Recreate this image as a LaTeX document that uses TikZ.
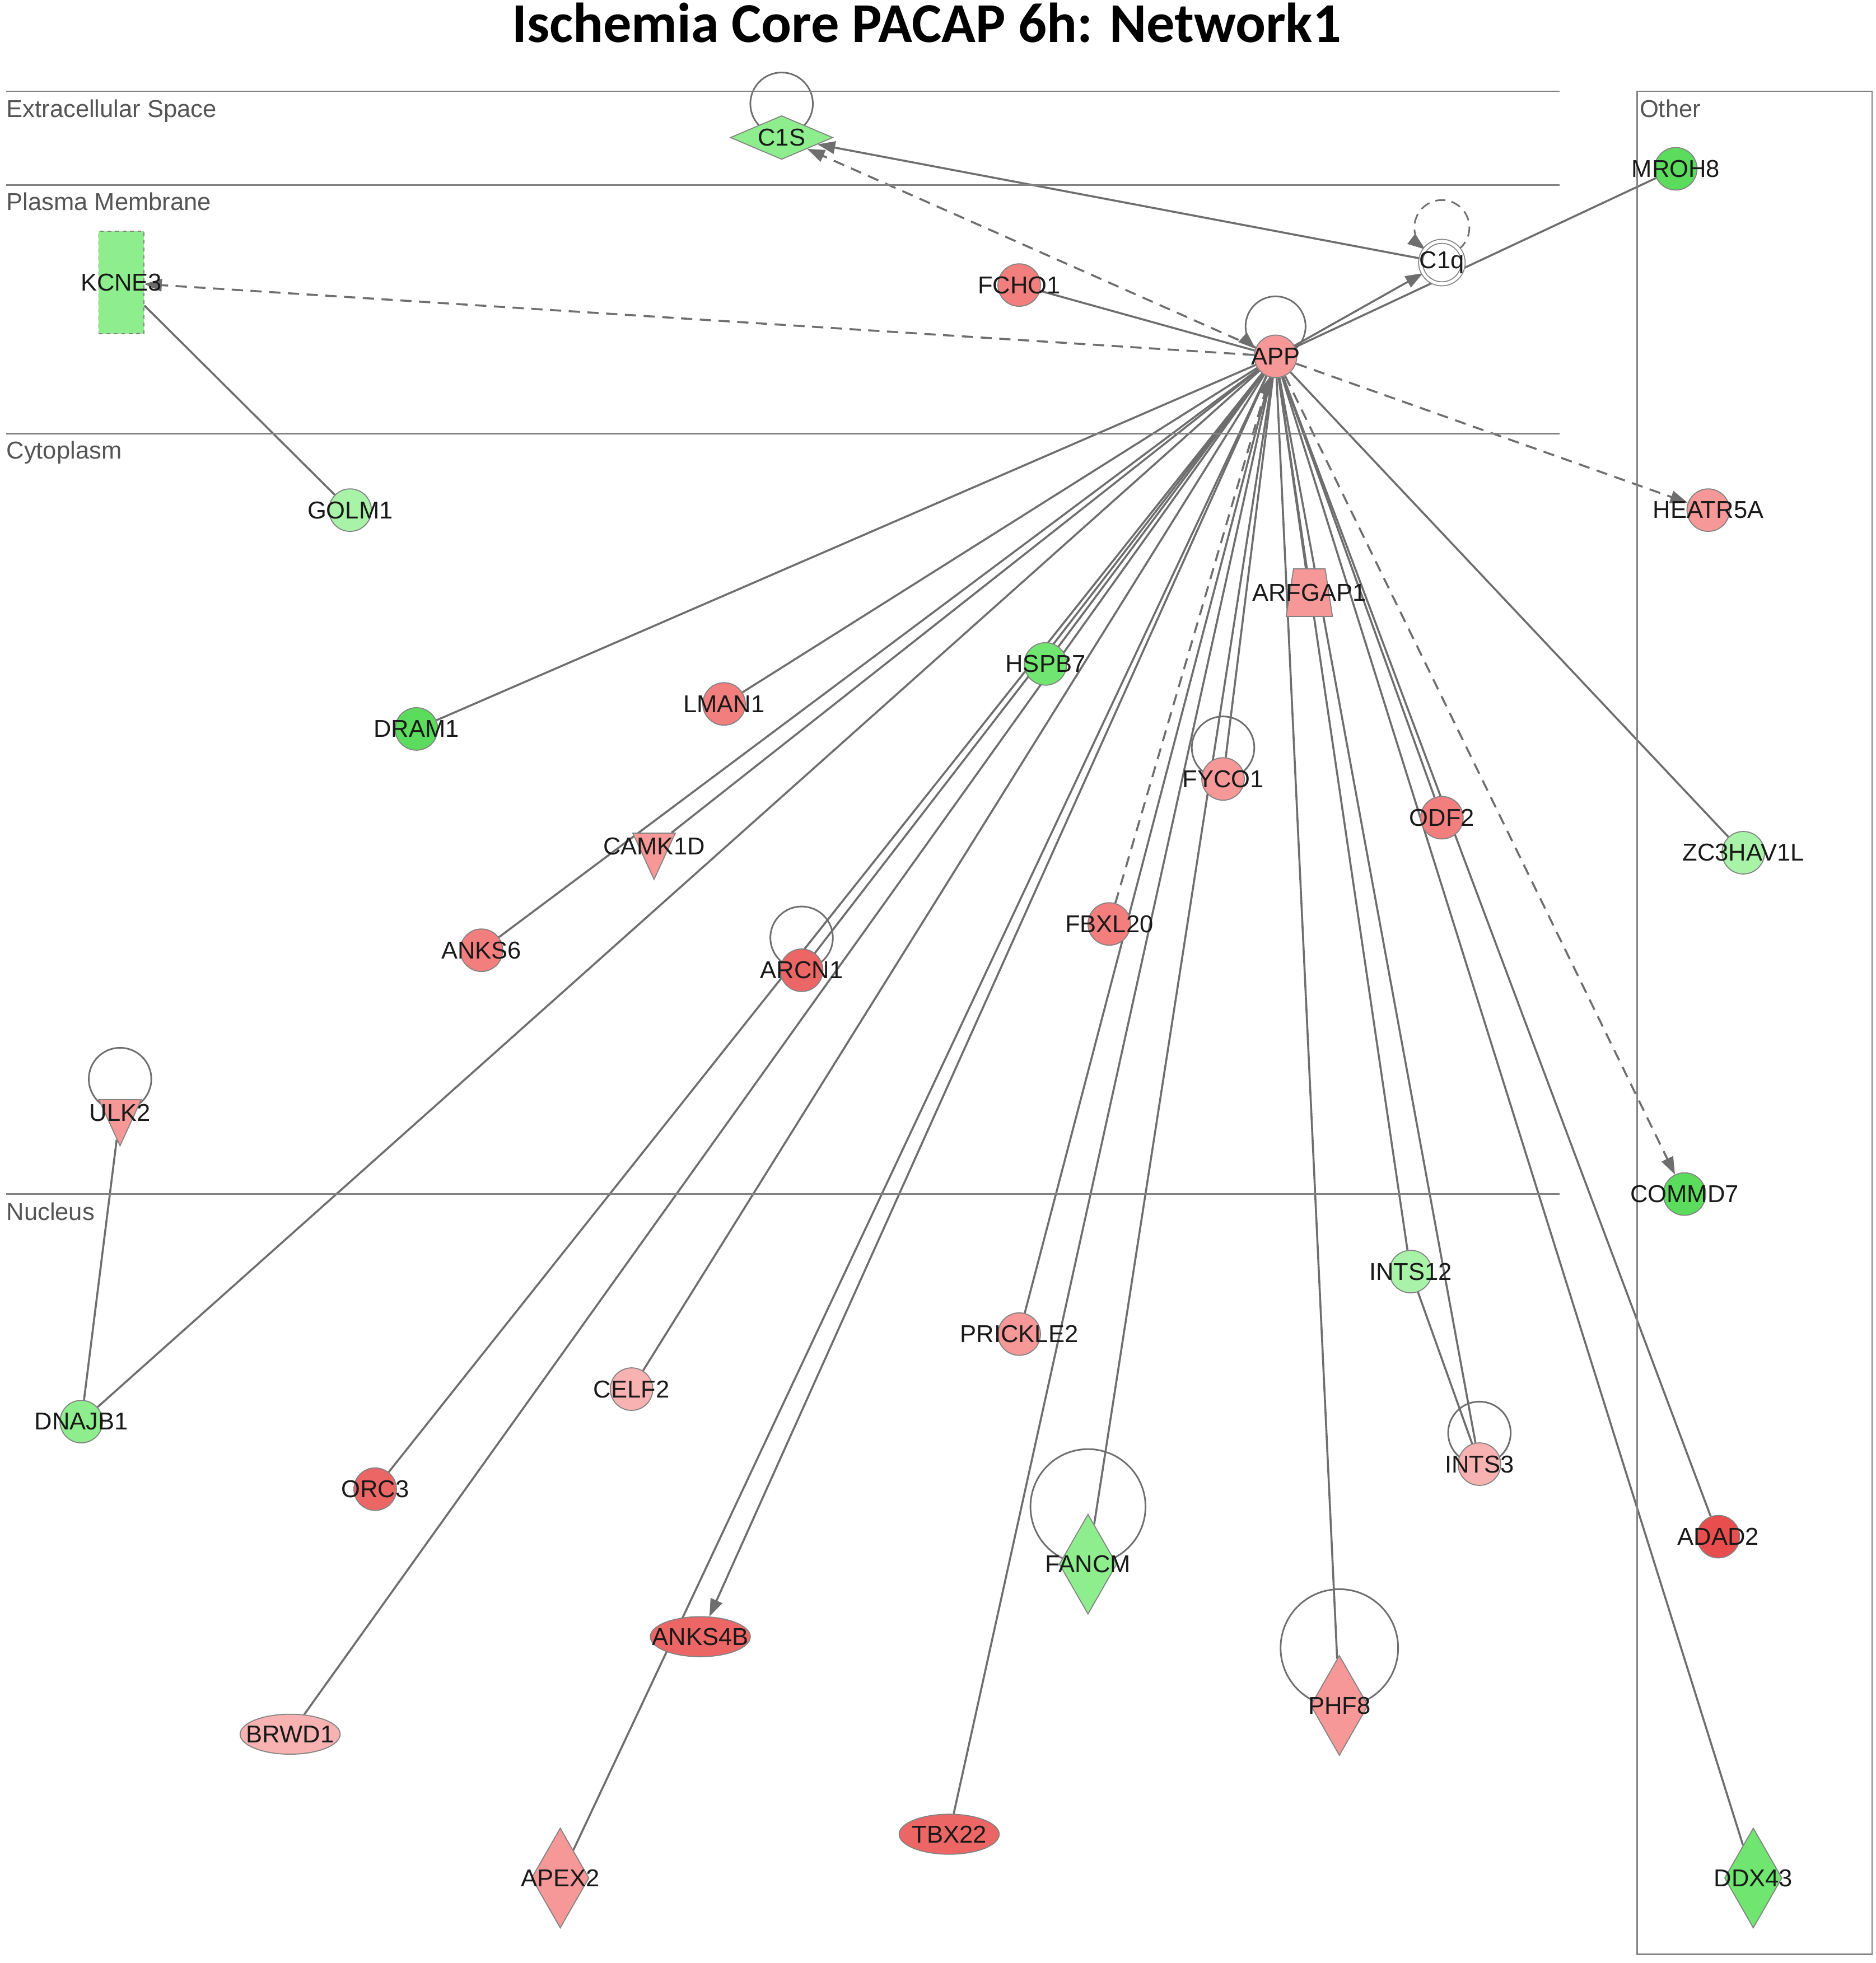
\documentclass[tikz,border=0pt]{standalone}
\usepackage{fontspec}
\setmainfont{Liberation Sans}
\newfontfamily\titlefont{Carlito}
\usetikzlibrary{shapes.geometric,arrows.meta,backgrounds}
\definecolor{up1}{RGB}{248,178,178}
\definecolor{up2}{RGB}{246,152,152}
\definecolor{up3}{RGB}{242,126,126}
\definecolor{up4}{RGB}{237,102,102}
\definecolor{up5}{RGB}{232,78,78}
\definecolor{dn1}{RGB}{168,243,168}
\definecolor{dn2}{RGB}{142,238,142}
\definecolor{dn3}{RGB}{112,229,112}
\definecolor{dn4}{RGB}{92,220,92}
\definecolor{edgegray}{RGB}{110,110,110}
\definecolor{rimgray}{RGB}{130,130,130}
\definecolor{compgray}{RGB}{85,85,85}
\begin{document}
\begin{tikzpicture}[x=10pt,y=10pt,
every node/.style={inner sep=0pt},
mol/.style={draw=rimgray,line width=0.8pt,label={[font=\fontsize{19.5}{22}\selectfont,text=black!90]center:#1}},
circ/.style={mol=#1,circle,minimum size=34pt},
flatellipse/.style={mol=#1,ellipse,minimum width=80pt,minimum height=32pt},
tallkite/.style={mol=#1,diamond,minimum width=46pt,minimum height=80pt},
widekite/.style={mol=#1,diamond,minimum width=82pt,minimum height=35pt},
downtri/.style={mol=#1,isosceles triangle,isosceles triangle stretches,shape border rotate=-90,inner sep=1pt,minimum width=34pt,minimum height=37pt},
trap/.style={mol=#1,trapezium,trapezium angle=77,trapezium stretches=true,inner sep=1pt,minimum width=37pt,minimum height=38pt},
comp/.style={anchor=base west,text=compgray,font=\fontsize{19.5}{22}\selectfont},
wall/.style={draw=rimgray,line width=1.3pt},
link/.style={draw=edgegray,line width=1.6pt},
dlink/.style={link,dash pattern=on 9pt off 6pt},
act/.style={-{Triangle[length=14pt,width=10pt]}},
selfloop/.style={draw=edgegray,line width=1.3pt}]
\useasboundingbox (0,0) rectangle (150,-157);
\node[anchor=base,font=\titlefont\bfseries\fontsize{45}{50}\selectfont] (title) at (74.1,-3.4) {Ischemia Core PACAP 6h: Network1};
\draw[wall] (0.5,-7.3) -- (124.7,-7.3);
\draw[wall] (0.5,-14.8) -- (124.7,-14.8);
\draw[wall] (0.5,-34.7) -- (124.7,-34.7);
\draw[wall] (0.5,-95.5) -- (124.7,-95.5);
\draw[wall] (130.9,-7.3) rectangle (149.7,-156.3);
\node[comp] (ecs) at (0.5,-9.4) {Extracellular Space};
\node[comp] (pm) at (0.5,-16.8) {Plasma Membrane};
\node[comp] (cyto) at (0.5,-36.7) {Cytoplasm};
\node[comp] (nuc) at (0.5,-97.6) {Nucleus};
\node[comp] (oth) at (131.1,-9.4) {Other};
\node[widekite=C1S,fill=dn2] (C1S) at (62.5,-11.0) {};
\node[circ=C1q,fill=white,double=white,double distance=2.4pt] (C1q) at (115.3,-21.0) {};
\node[circ=MROH8,fill=dn4] (MROH8) at (134.0,-13.5) {};
\node[mol=KCNE3,rectangle,dashed,minimum width=36pt,minimum height=82pt,fill=dn2] (KCNE3) at (9.7,-22.6) {};
\node[circ=FCHO1,fill=up3] (FCHO1) at (81.5,-22.8) {};
\node[circ=APP,fill=up2] (APP) at (102.0,-28.5) {};
\node[circ=GOLM1,fill=dn1] (GOLM1) at (28.0,-40.8) {};
\node[circ=HEATR5A,fill=up2] (HEATR5A) at (136.6,-40.8) {};
\node[trap=ARFGAP1,fill=up2] (ARFGAP1) at (104.7,-47.4) {};
\node[circ=HSPB7,fill=dn3] (HSPB7) at (83.6,-53.1) {};
\node[circ=DRAM1,fill=dn4] (DRAM1) at (33.3,-58.3) {};
\node[circ=LMAN1,fill=up3] (LMAN1) at (57.9,-56.3) {};
\node[circ=FYCO1,fill=up2] (FYCO1) at (97.8,-62.3) {};
\node[circ=ODF2,fill=up3] (ODF2) at (115.3,-65.4) {};
\node[circ=ZC3HAV1L,fill=dn1] (ZC3HAV1L) at (139.4,-68.2) {};
\node[downtri=CAMK1D,fill=up2] (CAMK1D) at (52.3,-67.7) {};
\node[circ=ANKS6,fill=up3] (ANKS6) at (38.5,-76.0) {};
\node[circ=ARCN1,fill=up4] (ARCN1) at (64.1,-77.6) {};
\node[circ=FBXL20,fill=up3] (FBXL20) at (88.7,-73.9) {};
\node[downtri=ULK2,fill=up2] (ULK2) at (9.6,-89.0) {};
\node[circ=COMMD7,fill=dn4] (COMMD7) at (134.7,-95.5) {};
\node[circ=INTS12,fill=dn1] (INTS12) at (112.8,-101.7) {};
\node[circ=PRICKLE2,fill=up2] (PRICKLE2) at (81.5,-106.7) {};
\node[circ=CELF2,fill=up1] (CELF2) at (50.5,-111.1) {};
\node[circ=DNAJB1,fill=dn2] (DNAJB1) at (6.5,-113.7) {};
\node[circ=INTS3,fill=up1] (INTS3) at (118.3,-117.1) {};
\node[circ=ORC3,fill=up4] (ORC3) at (30.0,-119.1) {};
\node[circ=ADAD2,fill=up5] (ADAD2) at (137.4,-122.9) {};
\node[tallkite=FANCM,fill=dn2] (FANCM) at (87.0,-125.1) {};
\node[flatellipse=ANKS4B,fill=up4] (ANKS4B) at (56.0,-130.9) {};
\node[tallkite=PHF8,fill=up2] (PHF8) at (107.1,-136.4) {};
\node[flatellipse=BRWD1,fill=up1] (BRWD1) at (23.2,-138.7) {};
\node[flatellipse=TBX22,fill=up4] (TBX22) at (75.9,-146.7) {};
\node[tallkite=APEX2,fill=up2] (APEX2) at (44.8,-150.2) {};
\node[tallkite=DDX43,fill=dn3] (DDX43) at (140.2,-150.2) {};
\begin{pgfonlayer}{background}
\fill[white] (0,0) rectangle (150,-157);
\draw[selfloop] (C1S.center) ++(0,2.7) circle[radius=2.5];
\draw[selfloop,dash pattern=on 8pt off 5pt,act] (C1q.center) ++(1.335,1.052) arc[start angle=-52.6,end angle=232.6,radius=2.2];
\draw[selfloop,act] (APP.center) ++(1.59,0.6) arc[start angle=-48.5,end angle=228.5,radius=2.4];
\draw[selfloop] (FYCO1.center) ++(0,2.5) circle[radius=2.5];
\draw[selfloop] (ARCN1.center) ++(0,2.6) circle[radius=2.5];
\draw[selfloop] (ULK2.center) ++(0,2.7) circle[radius=2.5];
\draw[selfloop] (INTS3.center) ++(0,2.5) circle[radius=2.5];
\draw[selfloop] (FANCM.center) ++(0,4.6) circle[radius=4.6];
\draw[selfloop] (PHF8.center) ++(0,4.6) circle[radius=4.7];
\draw[dlink,act] (APP) -- (KCNE3);
\draw[dlink,act] (APP) -- (C1S);
\draw[dlink,act] (APP) -- (HEATR5A);
\draw[dlink,act] (APP) -- (COMMD7);
\draw[dlink,act] (FBXL20) -- (APP);
\draw[link,act] (C1q) -- (C1S);
\draw[link,act] (APP) -- (C1q);
\draw[link,act] (APP) -- (ANKS4B);
\draw[link] (FCHO1) -- (APP);
\draw[link] (APP) -- (MROH8);
\draw[link] (APP) -- (ZC3HAV1L);
\draw[link] (APP) -- (DDX43);
\draw[link] (APP) -- (ADAD2);
\draw[link] (APP) -- (INTS3);
\draw[link] (APP) -- (INTS12);
\draw[link] (APP) -- (ODF2);
\draw[link] (APP) -- (PHF8);
\draw[link] (APP) -- (ARFGAP1);
\draw[link] (APP) -- (FYCO1);
\draw[link] (APP) -- (FANCM);
\draw[link] (APP) -- (TBX22);
\draw[link] (APP) -- (PRICKLE2);
\draw[link] (APP) -- (HSPB7);
\draw[link] (APP) -- (APEX2);
\draw[link] (APP) -- (CELF2);
\draw[link] (APP) -- (ARCN1);
\draw[link] (APP) -- (ORC3);
\draw[link] (APP) -- (BRWD1);
\draw[link] (APP) -- (ANKS6);
\draw[link] (APP) -- (CAMK1D);
\draw[link] (APP) -- (LMAN1);
\draw[link] (APP) -- (DRAM1);
\draw[link] (APP) -- (DNAJB1);
\draw[link] (KCNE3) -- (GOLM1);
\draw[link] (ULK2) -- (DNAJB1);
\draw[link] (INTS12) -- (INTS3);
\end{pgfonlayer}
\end{tikzpicture}
\end{document}
